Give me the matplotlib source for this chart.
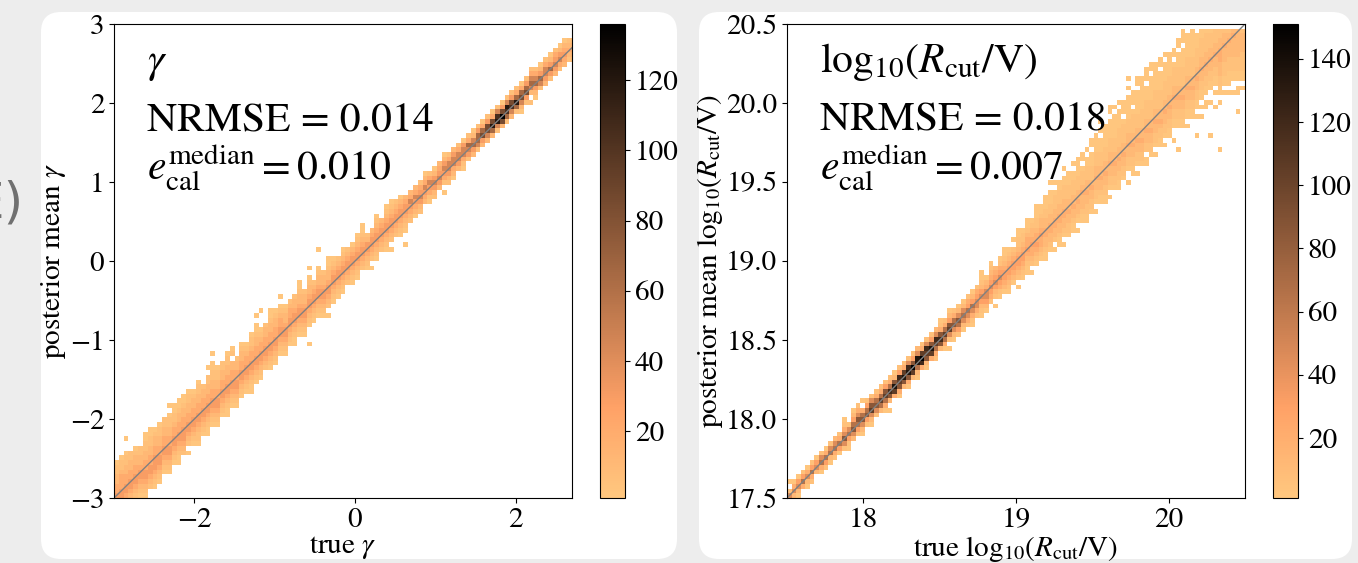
import numpy as np
import matplotlib.pyplot as plt
from matplotlib.patches import FancyBboxPatch
from matplotlib.transforms import IdentityTransform

plt.rcParams['font.family'] = 'STIXGeneral'
plt.rcParams['mathtext.fontset'] = 'stix'

# count level of each cell character
LEVEL_CHARS = ".123456789abc"
LEVEL_COUNTS = [0, 2, 6, 12, 20, 30, 45, 65, 85, 105, 120, 136, 151]

# gamma panel: one string per true-value bin, "start offset from diagonal : cell levels upward"
gamma_lo, gamma_hi, gamma_top = -3.0, 2.7, 3.0
gamma_bin = 0.06
gamma_cols = [
    "-5:1234554433221", "-5:1234554443221", "-6:11234554433221..1", "-6:1223455443322",
    "-5:123455443321", "-6:112345543322", "-6:12345544332211", "-5:2345544332211",
    "-6:1234555443321", "-6:1234554433221", "-5:123455443322", "-6:1234554433221.1",
    "-5:1234554432211", "-6:11234554433211", "-5:2345554433211", "-6:1.234554433221",
    "-5:123455443321", "-6:12234554433221", "-5:12345544332", "-6:1123455443322.1",
    "-5:12345544332211.1", "-6:1234554433221", "-5:123455443322", "-6:11234554433221",
    "-5:1234554433.21", "-6:12345544332", "-5:123455443321", "-5:12345544321",
    "-6:1123455443221", "-5:1234554433211.1", "-5:12345544321...1", "-4:2345544332",
    "-5:1234554433211", "-5:123455443321", "-4:12345544321.1", "-5:12345543321",
    "-4:1234554432", "-5:11234554332", "-4:123455433211", "-5:1234554332",
    "-8:1...12345543321.1", "-4:123455432", "-4:12345543321...1", "-5:1234554332",
    "-6:1.23455433211", "-4:1234554321", "-4:123455432", "-4:1234554321",
    "-3:23455432", "-4:123455431", "-4:1234554321", "-3:2345543211",
    "-4:12345532", "-5:1.2345543", "-4:1234554321", "-3:2345543",
    "-4:1234554321", "-5:1.234554321", "-3:23455432", "-4:123455431",
    "-7:1..12345543", "-3:2345643", "-3:1345643", "-3:2356542",
    "-2:3456431", "-3:1245642", "-3:2356531", "-2:356543",
    "-4:1.2456531", "-3:2356642", "-3:1346653", "-2:356642",
    "-3:1246651", "-2:256742", "-2:357631", "-2:267752",
    "-2:358741", "-2:368852", "-2:37a841", "-2:26a962",
    "-2:38b851", "-2:279a62", "-2:369852", "-2:27a742",
    "-3:1368741", "-2:258752", "-3:2.367642", "-3:1357642",
    "-2:267531", "-2:356642", "-2:257531", "-2:356542",
    "-2:246531", "-2:345431", "-2:23432",
]
gamma_nrmse = "0.014"
gamma_ecal = "0.010"

# log10(R_cut/V) panel
rcut_lo, rcut_hi, rcut_top = 17.5, 20.5, 20.5
rcut_bin = 0.03
rcut_cols = [
    "-1:562.1", "-1:3641", "-2:13651", "-1:4752", "-2:13641",
    "-2:24752", "-1:3651", "-2:14762", "-2:25741", "-2:13762",
    "-2:24763", "-2:15742", "-2:2686421", "-3:125762", "-2:3687531",
    "-2:2578642", "-3:136874.1", "-2:258752", "-3:1369862", "-2:268742",
    "-2:379742", "-3:1479852", "-4:1.38a742", "-2:49b831", "-3:1489a52",
    "-2:38b942", "-3:148ba62", "-2:39c852", "-3:137bb63", "-2:4ac942",
    "-3:1389a62", "-2:49b852", "-3:2479a63", "-2:38a8421", "-3:1479742",
    "-4:1.2698531", "-3:1368742", "-3:2578631", "-3:1367631", "-3:2467542",
    "-4:12467531", "-3:2466542", "-4:1235653211", "-4:13566431", "-3:245654321",
    "-5:1.2356543", "-4:124565421", "-4:1345543211", "-5:1234554321", "-4:13455432.1",
    "-6:1.23455432211", "-5:12345543221", "-5:112345443211", "-6:1.2344543321", "-5:1234544322111",
    "-5:123445433211", "-6:11233443322111", "-5:1233443322111.1", "-6:1.23344332221.1", "-6:11233443322211",
    "-7:1.1233443322211.1", "-6:12233433222111", "-6:1123343322211.1", "-7:1.12334332221111", "-6:112333432221.11",
    "-7:11223343322211.1", "-6:1223343222111.11", "-7:1.122334332221111", "-6:11233433222111.1.1", "-7:11223343322211111",
    "-7:1.122334332221111.11", "-6:1223343322211111.1", "-7:11223343322221111.1", "-6:1223343322221.111", "-8:1..1223343322211111.1.1",
    "-7:11223343322221.111", "-8:1.1223343322211111.11", "-7:1223343322221111111", "-8:11.22334332222111.111", "-7:12233433222211111.11",
    "-8:1.122334332222111111", "-7:1122343322221111.11", "-8:1.1223343322221111.1", "-7:112233433222211111", "-9:1..11223343322221.11",
    "-12:1....1122334332222111.11", "-8:11223343322221111.111", "-9:1.112233433222211111", "-8:1122334332222111111", "-13:1...1.1122334332222111",
    "-10:1.1.112233433222211", "-9:11.11223343322221", "-16:1......1..1122334332221", "-11:1..1.112233433222", "-21:1.........1.11223334443322",
    "-10:1.112223334332", "-11:1.111222333432", "-12:1..11222333343", "-17:1...11.11222333333", "-13:1.11222233332",
]
rcut_nrmse = "0.018"
rcut_ecal = "0.007"


def build_counts(cols, ny):
    counts = np.zeros((ny, len(cols)))
    for i, col in enumerate(cols):
        start, cells = col.split(':')
        for k, ch in enumerate(cells):
            row = i + int(start) + k
            if 0 <= row < ny:
                counts[row, i] = LEVEL_COUNTS[LEVEL_CHARS.index(ch)]
    return np.ma.masked_less(counts, 1)


fig = plt.figure(figsize=(13.58, 5.63), dpi=100, facecolor='#ededed')

# white cards behind the two panels
for x0, w in [(41, 636), (699, 653)]:
    fig.patches.append(FancyBboxPatch((x0, 4), w, 547, boxstyle='round,pad=0,rounding_size=20',
                                      transform=IdentityTransform(), facecolor='white',
                                      edgecolor='none', zorder=-10))
fig.text(23 / 1358, 1 - 204 / 563, 'E)', ha='right', va='center', fontsize=36,
         color='#707070', family='DejaVu Sans')

rcut_tex = r'\mathrm{log}_{10}(R_{\rm cut}/\mathrm{V})'
panels = [
    dict(cols=gamma_cols, lo=gamma_lo, hi=gamma_hi, top=gamma_top, bin=gamma_bin,
         name=r'$\gamma$', nrmse=gamma_nrmse, ecal=gamma_ecal,
         xlabel=r'true $\gamma$', ylabel=r'posterior mean $\gamma$',
         ax_rect=[114 / 1358, 65 / 563, 458 / 1358, 474 / 563],
         cb_rect=[600 / 1358, 65 / 563, 25 / 1358, 474 / 563],
         xticks=[-2, 0, 2], yticks=[-3, -2, -1, 0, 1, 2, 3], yfmt=None),
    dict(cols=rcut_cols, lo=rcut_lo, hi=rcut_hi, top=rcut_top, bin=rcut_bin,
         name='$' + rcut_tex + '$', nrmse=rcut_nrmse, ecal=rcut_ecal,
         xlabel='true $' + rcut_tex + '$',
         ylabel='posterior mean $' + rcut_tex + '$',
         ax_rect=[787 / 1358, 65 / 563, 458 / 1358, 474 / 563],
         cb_rect=[1273 / 1358, 65 / 563, 25 / 1358, 474 / 563],
         xticks=[18, 19, 20], yticks=[17.5, 18.0, 18.5, 19.0, 19.5, 20.0, 20.5], yfmt='%.1f'),
]

for p in panels:
    ny = int(round((p['top'] - p['lo']) / p['bin']))
    counts = build_counts(p['cols'], ny)
    xedges = p['lo'] + p['bin'] * np.arange(len(p['cols']) + 1)
    yedges = p['lo'] + p['bin'] * np.arange(ny + 1)

    ax = fig.add_axes(p['ax_rect'])
    mesh = ax.pcolormesh(xedges, yedges, counts, cmap='copper_r', vmin=1)
    ax.plot([p['lo'], p['hi']], [p['lo'], p['hi']], color='gray', lw=1)
    ax.set_xlim(p['lo'], p['hi'])
    ax.set_ylim(p['lo'], p['top'])
    ax.set_xticks(p['xticks'])
    ax.set_yticks(p['yticks'])
    if p['yfmt']:
        ax.yaxis.set_major_formatter(plt.FormatStrFormatter(p['yfmt']))
    ax.tick_params(labelsize=21)
    ax.set_xlabel(p['xlabel'], fontsize=21, labelpad=1)
    ax.set_ylabel(p['ylabel'], fontsize=21, labelpad=1)

    ax.text(0.072, 0.899, p['name'], transform=ax.transAxes, fontsize=30, va='baseline')
    ax.text(0.072, 0.776, 'NRMSE = ' + p['nrmse'], transform=ax.transAxes,
            fontsize=30, va='baseline')
    ax.text(0.072, 0.671, r'$e_{\rm cal}^{\rm median}=%s$' % p['ecal'], transform=ax.transAxes,
            fontsize=30, va='baseline')

    cax = fig.add_axes(p['cb_rect'])
    cb = fig.colorbar(mesh, cax=cax)
    cb.ax.tick_params(labelsize=21)

fig.savefig('out.png', dpi=100, facecolor=fig.get_facecolor())
